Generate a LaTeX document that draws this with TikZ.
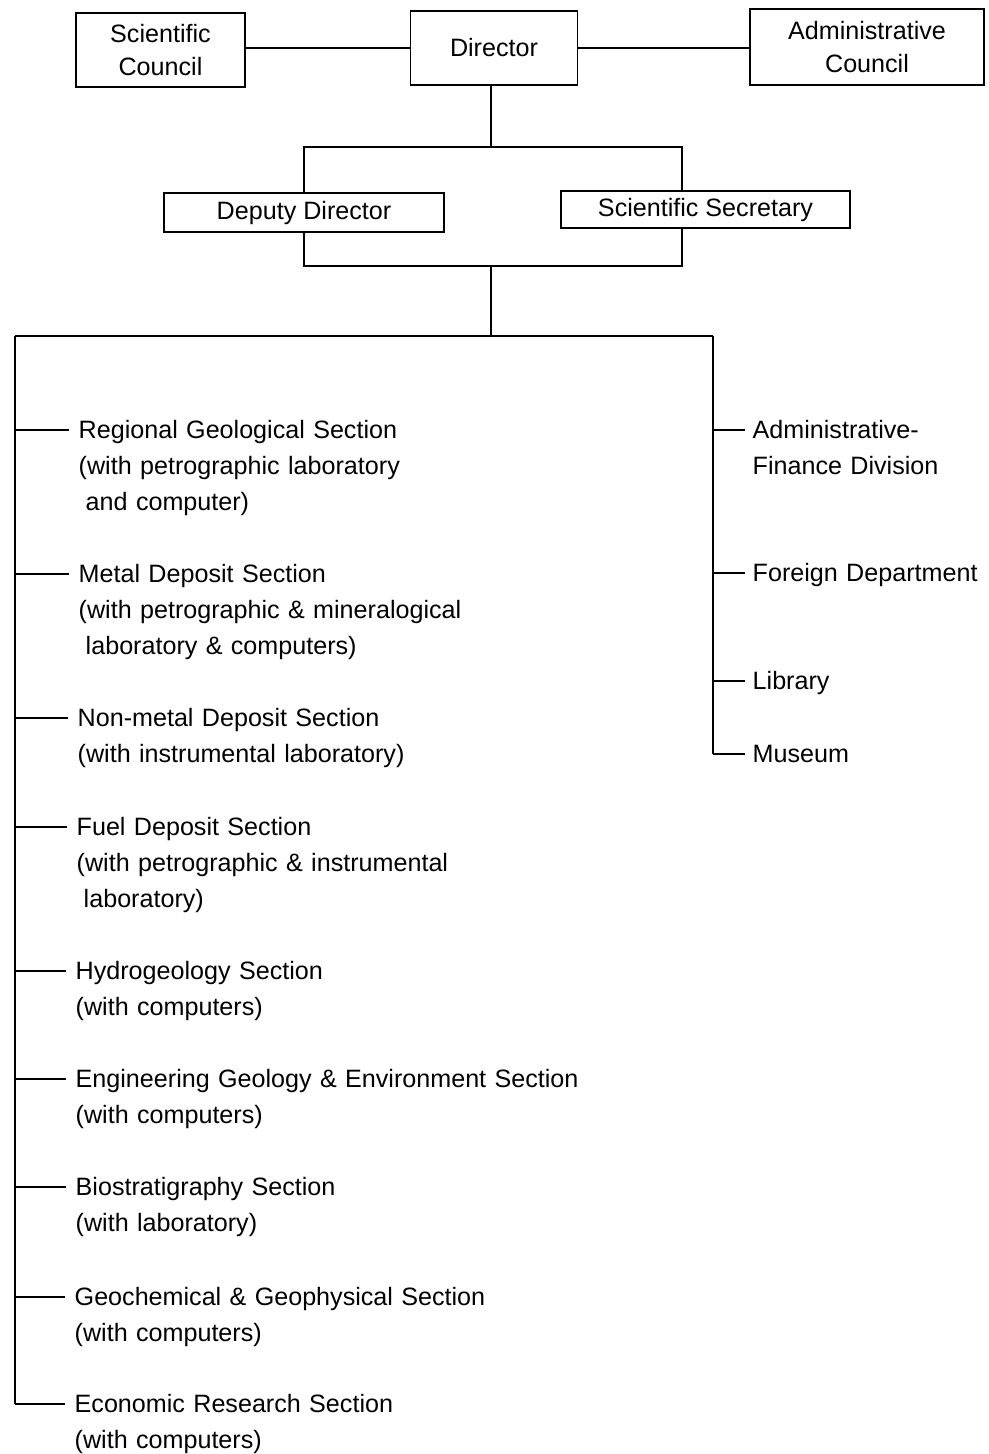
\documentclass[tikz,border=0pt]{standalone}
\usepackage{fontspec}
\setmainfont{Liberation Sans}
\begin{document}
\begin{tikzpicture}[
    x=0.02cm, y=-0.02cm,
    line width=0.8pt,
    orgbox/.style={
      rectangle, draw, line width=0.8pt, inner sep=2pt,
      align=center, font=\fontsize{14.3}{18.5}\selectfont
    },
    linebox/.style={orgbox, text height=0.9em, text depth=0.06em},
    itemtext/.style={
      anchor=base west, inner sep=0pt, text width=11cm, align=left,
      font=\fontsize{14.3}{20.5}\selectfont
    },
    branch/.style={shorten >=0.18cm},
]
\useasboundingbox (0,0) rectangle (988,1454);

% ===== TOP ROW: Councils and Director =====
\node[orgbox, minimum width=3.38cm, minimum height=1.48cm] (scicouncil) at (160.5,50) {Scientific\\Council};
\node[orgbox, minimum width=3.34cm, minimum height=1.48cm] (director) at (494,48) {Director};
\node[orgbox, minimum width=4.68cm, minimum height=1.52cm] (admcouncil) at (867,47) {Administrative\\Council};

\draw (director.west) -- (director.west -| scicouncil.east);
\draw (director.east) -- (director.east -| admcouncil.west);

% ===== SECOND ROW: Deputy Director and Scientific Secretary =====
\node[linebox, minimum width=5.6cm, minimum height=0.78cm] (deputy) at (304,212.5) {Deputy Director};
\node[linebox, minimum width=5.78cm, minimum height=0.74cm] (scisec) at (705.5,209.5) {Scientific Secretary};

\coordinate (jtop) at (491,147);
\coordinate (secin) at (682,191);
\coordinate (jbot) at (491,266);
\coordinate (secout) at (682,228);
\coordinate (jmain) at (491,336);

\draw (jtop |- director.south) -- (jtop);
\draw (deputy.north) |- (jtop) -| (secin);
\draw (deputy.south) |- (jbot) -| (secout);
\draw (jbot) -- (jmain);

% ===== MAIN BAR =====
\coordinate (lspine) at (15,336);
\coordinate (rspine) at (713,336);
\draw (lspine) -- (rspine);

% ===== LEFT BRANCH: Sections =====
\node[itemtext] (regional) at (78,438) {Regional Geological Section\\(with petrographic laboratory\\\hspace*{0.28em}and computer)};
\node[itemtext] (metal) at (78,582) {Metal Deposit Section\\(with petrographic \& mineralogical\\\hspace*{0.28em}laboratory \& computers)};
\node[itemtext] (nonmetal) at (77,726) {Non-metal Deposit Section\\(with instrumental laboratory)};
\node[itemtext] (fuel) at (76,835) {Fuel Deposit Section\\(with petrographic \& instrumental\\\hspace*{0.28em}laboratory)};
\node[itemtext] (hydro) at (75,979) {Hydrogeology Section\\(with computers)};
\node[itemtext] (engineering) at (75,1087) {Engineering Geology \& Environment Section\\(with computers)};
\node[itemtext] (biostrat) at (75,1195) {Biostratigraphy Section\\(with laboratory)};
\node[itemtext] (geochem) at (74,1305) {Geochemical \& Geophysical Section\\(with computers)};
\node[itemtext] (economic) at (74,1412) {Economic Research Section\\(with computers)};

\coordinate (l1) at (15,430);
\coordinate (l2) at (15,574);
\coordinate (l3) at (15,718);
\coordinate (l4) at (15,827);
\coordinate (l5) at (15,971);
\coordinate (l6) at (15,1079);
\coordinate (l7) at (15,1187);
\coordinate (l8) at (15,1297);
\coordinate (l9) at (15,1404);

\draw (lspine) -- (l9);
\draw[branch] (l1) -- (l1 -| regional.west);
\draw[branch] (l2) -- (l2 -| metal.west);
\draw[branch] (l3) -- (l3 -| nonmetal.west);
\draw[branch] (l4) -- (l4 -| fuel.west);
\draw[branch] (l5) -- (l5 -| hydro.west);
\draw[branch] (l6) -- (l6 -| engineering.west);
\draw[branch] (l7) -- (l7 -| biostrat.west);
\draw[branch] (l8) -- (l8 -| geochem.west);
\draw[branch] (l9) -- (l9 -| economic.west);

% ===== RIGHT BRANCH: Services =====
\node[itemtext, text width=5cm] (finance) at (752,438) {Administrative-\\Finance Division};
\node[itemtext, text width=5cm] (foreign) at (752,581) {Foreign Department};
\node[itemtext, text width=5cm] (library) at (752,689) {Library};
\node[itemtext, text width=5cm] (museum) at (752,762) {Museum};

\coordinate (r1) at (713,430);
\coordinate (r2) at (713,573);
\coordinate (r3) at (713,681);
\coordinate (r4) at (713,754);

\draw (rspine) -- (r4);
\draw[branch, shorten >=0.14cm] (r1) -- (r1 -| finance.west);
\draw[branch, shorten >=0.14cm] (r2) -- (r2 -| foreign.west);
\draw[branch, shorten >=0.14cm] (r3) -- (r3 -| library.west);
\draw[branch, shorten >=0.14cm] (r4) -- (r4 -| museum.west);

\end{tikzpicture}
\end{document}
